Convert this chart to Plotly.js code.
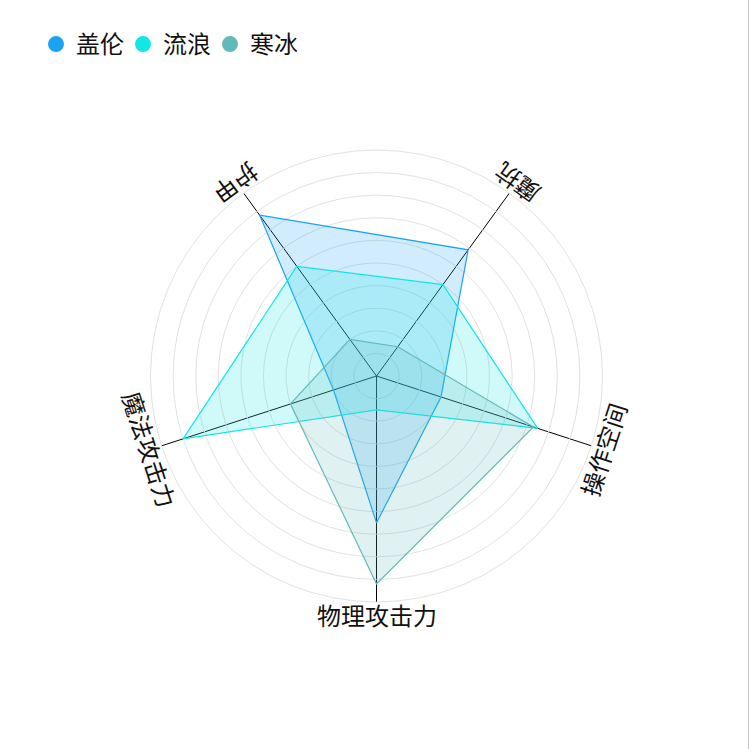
<!DOCTYPE html>
<html>
<head>
<meta charset="utf-8">
<script src="https://cdn.plot.ly/plotly-3.0.1.min.js"></script>
<style>
html,body{margin:0;padding:0;background:#fff;}
#chart{width:750px;height:749px;position:relative;}
#edge{position:absolute;left:748px;top:0;width:1px;height:749px;background:#c8c8c8;}
</style>
</head>
<body>
<div id="chart"></div>
<div id="edge"></div>
<script>
// ---- data ----
var indicators = ['护甲', '魔抗', '操作空间', '物理攻击力', '魔法攻击力'];
var seriesNames = ['盖伦', '流浪', '寒冰'];
var garen = [88, 69, 30, 65, 20];
var liulang = [60, 50, 75, 15, 90];
var hanbing = [20, 16, 73, 92, 40];
var maxValue = 100;

// ---- styles ----
var colors = ['#1aa3f5', '#12e6e6', '#62b9b9'];
var fills = ['rgba(26,163,245,0.2)', 'rgba(18,230,230,0.2)', 'rgba(98,185,185,0.2)'];
var W = 750, H = 749;
var cx = 376.5, cy = 376, R = 226;
var startAngle = 126;

function closed(a){ return a.concat([a[0]]); }
var thetaClosed = closed(indicators);
var allSeries = [garen, liulang, hanbing];

var traces = [];
allSeries.forEach(function(vals, i){
  traces.push({
    type: 'scatterpolar', r: closed(vals), theta: thetaClosed,
    mode: 'lines', fill: 'toself', fillcolor: fills[i],
    line: {color: colors[i], width: 1.2},
    name: seriesNames[i], showlegend: false, hoverinfo: 'name+r+theta'
  });
});
seriesNames.forEach(function(n, i){
  traces.push({
    type: 'scatterpolar', r: [null], theta: [indicators[0]],
    mode: 'markers', marker: {color: colors[i], size: 16, symbol: 'circle'},
    name: n, showlegend: true
  });
});

// axis name annotations, rotated tangentially
var annotations = indicators.map(function(name, k){
  var ang = startAngle - k * 360 / indicators.length;
  var rad = ang * Math.PI / 180;
  var rr = R + 12;
  var px = cx + rr * Math.cos(rad);
  var py = cy - rr * Math.sin(rad);
  var ta = -(ang + 90);
  ta = ((ta % 360) + 540) % 360 - 180;
  return {
    xref: 'paper', yref: 'paper', x: px / W, y: 1 - py / H,
    xanchor: 'center', yanchor: 'middle', showarrow: false,
    text: name, textangle: ta,
    font: {family: 'Noto Sans CJK SC, sans-serif', size: 24, color: '#111'}
  };
});

var layout = {
  width: W, height: H,
  margin: {l: 0, r: 0, t: 0, b: 0},
  paper_bgcolor: '#fff',
  showlegend: true,
  legend: {
    orientation: 'h', x: 36 / W, y: 1 - 22 / H, xanchor: 'left', yanchor: 'top',
    font: {family: 'Noto Sans CJK SC, sans-serif', size: 24, color: '#111'},
    itemwidth: 30, entrywidth: 42, entrywidthmode: 'pixels',
    bgcolor: 'rgba(0,0,0,0)', borderwidth: 0
  },
  polar: {
    domain: {x: [(cx - R) / W, (cx + R) / W], y: [1 - (cy + R) / H, 1 - (cy - R) / H]},
    bgcolor: 'rgba(0,0,0,0)',
    radialaxis: {
      range: [0, maxValue], dtick: 10, showticklabels: false, ticks: '',
      showline: false, gridcolor: '#e2e2e2', gridwidth: 1
    },
    angularaxis: {
      direction: 'clockwise', rotation: startAngle,
      showticklabels: false, ticks: '',
      showline: true, linecolor: '#e2e2e2', linewidth: 1,
      showgrid: true, gridcolor: '#000', gridwidth: 1
    }
  },
  annotations: annotations
};

Plotly.newPlot('chart', traces, layout, {displayModeBar: false, staticPlot: true});
</script>
</body>
</html>
